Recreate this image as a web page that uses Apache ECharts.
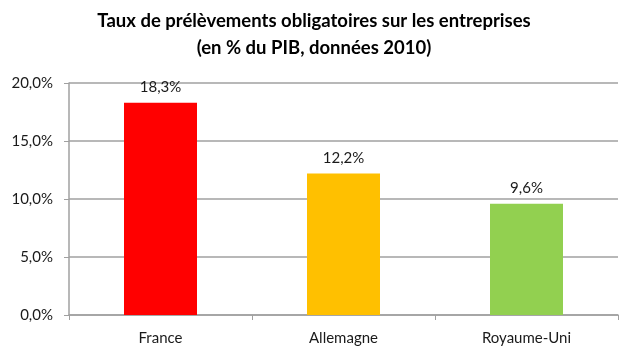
<!DOCTYPE html>
<html><head><meta charset="utf-8">
<script src="https://cdn.jsdelivr.net/npm/echarts@6/dist/echarts.min.js"></script>
<style>html,body{margin:0;padding:0;background:#fff}#c{width:628px;height:360px}</style>
</head><body><div id="c"></div>
<script>
const categories = ["France", "Allemagne", "Royaume-Uni"];
const values = [18.3, 12.2, 9.6];
const colors = ["#FF0000", "#FFC000", "#92D050"];
const titleLines = ["Taux de prélèvements obligatoires sur les entreprises", "(en % du PIB, données 2010)"];
const fmt = v => v.toFixed(1).replace('.', ',') + '%';
const FONT = 'Lato';
const chart = echarts.init(document.getElementById('c'));
chart.setOption({
  animation: false,
  title: {
    text: titleLines.join('\n'),
    left: 'center', top: 3,
    textStyle: {fontFamily: FONT, fontWeight: 'bold', fontSize: 18.5, lineHeight: 27, color: '#000'}
  },
  grid: {left: 69, right: 10, top: 83, bottom: 45},
  xAxis: {
    type: 'category', data: categories,
    axisLine: {lineStyle: {color: '#a0a0a0', width: 1.5}},
    axisTick: {show: true, length: 5, lineStyle: {color: '#a0a0a0'}},
    axisLabel: {fontFamily: FONT, fontSize: 15, color: '#1a1a1a', margin: 16}
  },
  yAxis: {
    type: 'value', min: 0, max: 20, interval: 5,
    axisLine: {show: true, lineStyle: {color: '#a0a0a0', width: 1.5}},
    axisTick: {show: true, length: 5, lineStyle: {color: '#a0a0a0'}},
    splitLine: {lineStyle: {color: '#a0a0a0', width: 1.5}},
    axisLabel: {fontFamily: FONT, fontSize: 15, color: '#1a1a1a', margin: 16, formatter: fmt}
  },
  series: [{
    type: 'bar', barWidth: 73,
    data: values.map((v, i) => ({value: v, itemStyle: {color: colors[i]}})),
    label: {show: true, position: 'top', distance: 8, fontFamily: FONT, fontSize: 15, color: '#1a1a1a', formatter: p => fmt(p.value)}
  }]
});
</script></body></html>
